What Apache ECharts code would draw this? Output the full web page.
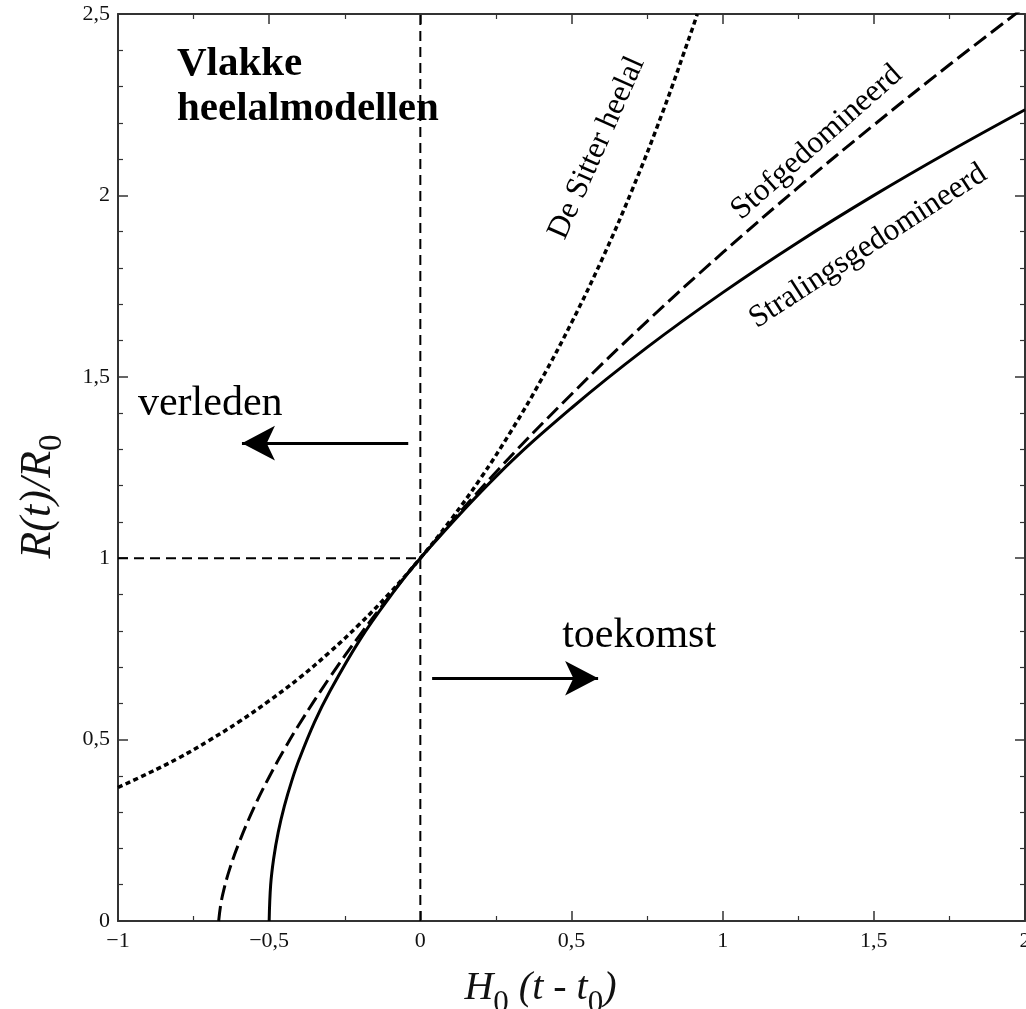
<!DOCTYPE html>
<html>
<head>
<meta charset="utf-8">
<script src="https://cdn.jsdelivr.net/npm/echarts@6/dist/echarts.min.js"></script>
<style>
html,body{margin:0;padding:0;background:#fff;}
#chart{width:1026px;height:1009px;}
</style>
</head>
<body>
<div id="chart"></div>
<script>
// ---- values ----
var xTicks = [-1, -0.5, 0, 0.5, 1, 1.5, 2];
var yTicks = [0, 0.5, 1, 1.5, 2, 2.5];

// De Sitter heelal (dotted)
var deSitter = [[-1,0.368],[-0.9,0.407],[-0.8,0.449],[-0.7,0.497],[-0.6,0.549],[-0.5,0.607],
  [-0.4,0.670],[-0.3,0.741],[-0.2,0.819],[-0.1,0.905],[0,1],[0.1,1.105],[0.2,1.221],
  [0.3,1.350],[0.4,1.492],[0.5,1.649],[0.6,1.822],[0.7,2.014],[0.8,2.226],[0.9,2.460],[0.916,2.5]];

// Stofgedomineerd (dashed)
var stof = [[-0.667,0],[-0.66,0.046],[-0.65,0.086],[-0.63,0.145],[-0.6,0.215],[-0.55,0.313],
  [-0.5,0.397],[-0.45,0.473],[-0.4,0.543],[-0.3,0.671],[-0.2,0.788],[-0.1,0.897],[0,1],
  [0.25,1.237],[0.5,1.452],[0.75,1.653],[1,1.842],[1.25,2.022],[1.5,2.194],[1.75,2.360],[2,2.520]];

// Stralingsgedomineerd (solid)
var straling = [[-0.5,0],[-0.495,0.1],[-0.485,0.173],[-0.47,0.245],[-0.45,0.316],[-0.425,0.387],
  [-0.4,0.447],[-0.35,0.548],[-0.3,0.632],[-0.2,0.775],[-0.1,0.894],[0,1],[0.25,1.225],
  [0.5,1.414],[0.75,1.581],[1,1.732],[1.25,1.871],[1.5,2.0],[1.75,2.121],[2,2.236]];

// reference lines
var nowLine = [[0,0],[0,2.5]];
var unitLine = [[-1,1],[0,1]];

// arrows: [start, tip]
var pastArrow = [[-0.04,1.317],[-0.59,1.317]];
var futureArrow = [[0.039,0.669],[0.588,0.669]];

// annotations: [x, y, text, rotation]
var curveLabels = [
  [0.584, 2.131, 'De Sitter heelal', 66],
  [1.311, 2.146, 'Stofgedomineerd', 41.5],
  [1.481, 1.860, 'Stralingsgedomineerd', 33]
];
var titlePos = [-0.805, 2.423];
var titleText = 'Vlakke\nheelalmodellen';
var wordLabels = [
  [-0.934, 1.426, 'verleden'],
  [0.469, 0.786, 'toekomst']
];

// ---- chart ----
var SERIF = '"Liberation Serif", "Times New Roman", serif';
var INK = '#000';
var AX = '#333';

function fmt(v){
  var s = String(v).replace('.', ',');
  return s.replace('-', '\u2212');
}

var axisCommon = {
  type: 'value',
  axisLine: {show: true, onZero: false, lineStyle: {color: AX, width: 2}},
  axisTick: {show: true, inside: true, length: 10, lineStyle: {color: AX, width: 1.5}},
  minorTick: {show: true, length: 5, lineStyle: {color: AX, width: 1.2}},
  splitLine: {show: false},
  minorSplitLine: {show: false}
};

var chart = echarts.init(document.getElementById('chart'), null, {renderer: 'canvas'});

var option = {
  backgroundColor: '#fff',
  animation: false,
  grid: {left: 118, right: 1, top: 14, bottom: 88, containLabel: false, outerBoundsMode: 'none'},
  xAxis: [
    Object.assign({}, axisCommon, {
      position: 'bottom', min: xTicks[0], max: xTicks[xTicks.length-1], interval: 0.5,
      minorTick: Object.assign({}, axisCommon.minorTick, {splitNumber: 2}),
      axisLabel: {show: true, margin: 9, color: '#111', fontFamily: SERIF, fontSize: 22, formatter: fmt},
      name: '{m|H}{s|0}{m| (t - t}{s|0}{m|)}',
      nameLocation: 'middle',
      nameGap: 47,
      nameTextStyle: {
        padding: [0, 62, 0, 0],
        rich: {
          m: {fontFamily: SERIF, fontStyle: 'italic', fontSize: 40, color: '#111', lineHeight: 40, verticalAlign: 'top'},
          s: {fontFamily: SERIF, fontSize: 31, color: '#111', lineHeight: 31, verticalAlign: 'top', padding: [20, 0, 0, 0]}
        }
      }
    }),
    Object.assign({}, axisCommon, {
      position: 'top', min: xTicks[0], max: xTicks[xTicks.length-1], interval: 0.5,
      minorTick: Object.assign({}, axisCommon.minorTick, {splitNumber: 2}),
      axisLabel: {show: false}
    })
  ],
  yAxis: [
    Object.assign({}, axisCommon, {
      position: 'left', min: yTicks[0], max: yTicks[yTicks.length-1], interval: 0.5,
      minorTick: Object.assign({}, axisCommon.minorTick, {splitNumber: 5}),
      axisLabel: {show: true, margin: 8, color: '#111', fontFamily: SERIF, fontSize: 22, formatter: fmt},
      name: '{m|R(t)/R}{s|0}',
      nameLocation: 'middle',
      nameRotate: 90,
      nameGap: 60,
      nameTextStyle: {
        padding: [0, 58, 0, 0],
        rich: {
          m: {fontFamily: SERIF, fontStyle: 'italic', fontSize: 44, color: '#111', lineHeight: 42, verticalAlign: 'top'},
          s: {fontFamily: SERIF, fontSize: 33, color: '#111', lineHeight: 33, verticalAlign: 'top', padding: [20, 0, 0, 0]}
        }
      }
    }),
    Object.assign({}, axisCommon, {
      position: 'right', min: yTicks[0], max: yTicks[yTicks.length-1], interval: 0.5,
      minorTick: Object.assign({}, axisCommon.minorTick, {splitNumber: 5}),
      axisLabel: {show: false}
    })
  ],
  series: [
    {
      name: 'nu', type: 'line', data: nowLine, symbol: 'none', silent: true,
      lineStyle: {color: INK, width: 2, type: [10, 6]}
    },
    {
      name: 'eenheid', type: 'line', data: unitLine, symbol: 'none', silent: true,
      lineStyle: {color: INK, width: 2, type: [10, 6]}
    },
    {
      name: 'De Sitter heelal', type: 'line', data: deSitter, symbol: 'none',
      smooth: 0.4,
      lineStyle: {color: INK, width: 3.5, type: [5, 3.5]}
    },
    {
      name: 'Stofgedomineerd', type: 'line', data: stof, symbol: 'none',
      smooth: 0.4,
      lineStyle: {color: INK, width: 3, type: [15, 6]}
    },
    {
      name: 'Stralingsgedomineerd', type: 'line', data: straling, symbol: 'none',
      smooth: 0.4,
      lineStyle: {color: INK, width: 3}
    },
    {
      name: 'pijlen', type: 'line', data: [], symbol: 'none',
      markLine: {
        silent: true, animation: false,
        symbol: ['none', 'arrow'],
        symbolSize: [26, 33],
        label: {show: false},
        lineStyle: {color: INK, width: 3, type: 'solid', opacity: 1},
        data: [
          [{coord: pastArrow[0]}, {coord: pastArrow[1]}],
          [{coord: futureArrow[0]}, {coord: futureArrow[1]}]
        ]
      }
    },
    {
      name: 'curvelabels', type: 'scatter', symbolSize: 0, silent: true,
      itemStyle: {opacity: 1},
      data: curveLabels.map(function(d){
        return {
          value: [d[0], d[1]], name: d[2],
          label: {show: true, position: 'inside', formatter: d[2], rotate: d[3],
            align: 'center', verticalAlign: 'middle', opacity: 1,
            fontFamily: SERIF, fontSize: 31.5, color: '#000'}
        };
      })
    },
    {
      name: 'woorden', type: 'scatter', symbolSize: 0, silent: true,
      itemStyle: {opacity: 1},
      data: wordLabels.map(function(d){
        return {
          value: [d[0], d[1]], name: d[2],
          label: {show: true, position: [0, 0], formatter: d[2],
            align: 'left', verticalAlign: 'middle', opacity: 1,
            fontFamily: SERIF, fontSize: 42, color: '#000'}
        };
      }).concat([{
        value: titlePos, name: 'titel',
        label: {show: true, position: [0, 0], formatter: titleText,
          align: 'left', verticalAlign: 'top', lineHeight: 45, opacity: 1,
          fontFamily: SERIF, fontWeight: 'bold', fontSize: 41, color: '#000'}
      }])
    }
  ]
};

chart.setOption(option);
</script>
</body>
</html>
